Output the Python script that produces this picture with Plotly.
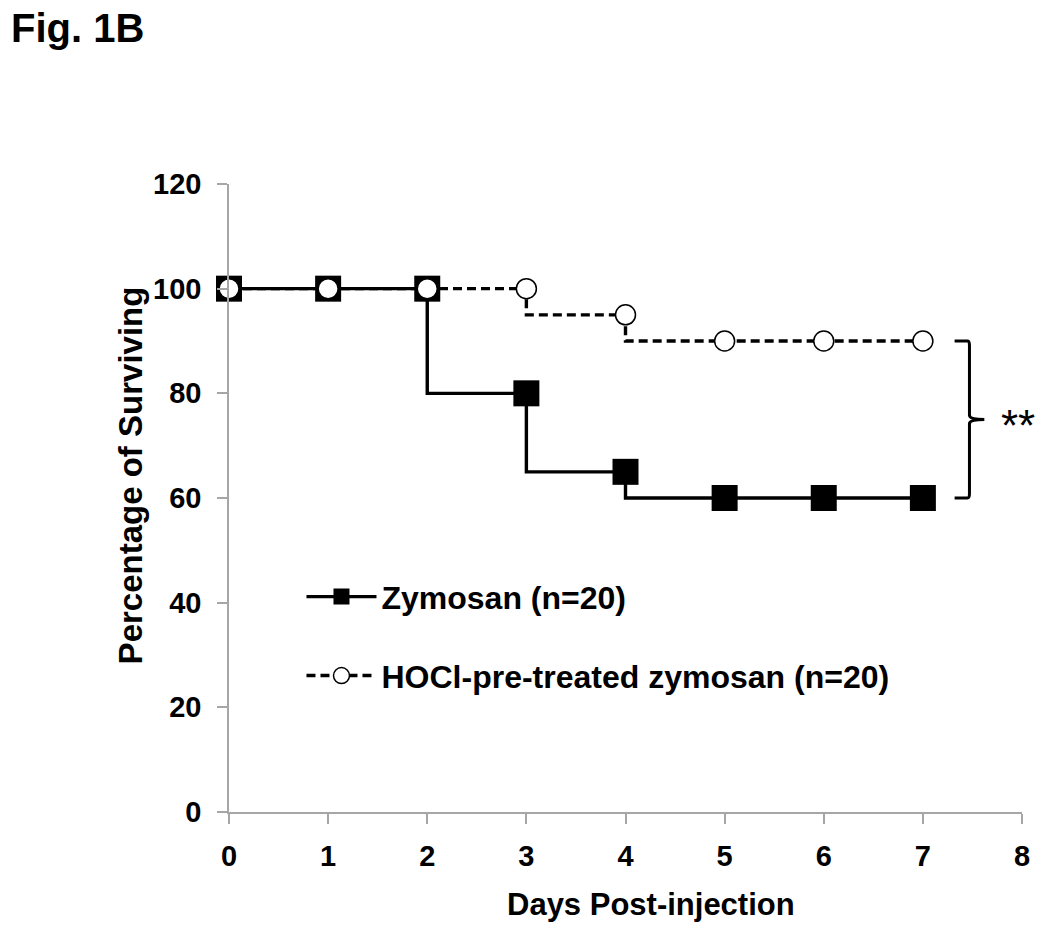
import plotly.graph_objects as go

# ---- data ----
days = [0, 1, 2, 3, 4, 5, 6, 7]
zymosan = [100, 100, 100, 80, 65, 60, 60, 60]
hocl = [100, 100, 100, 100, 95, 90, 90, 90]
name_zym = "Zymosan (n=20)"
name_hocl = "HOCl-pre-treated zymosan (n=20)"
x_ticks = [0, 1, 2, 3, 4, 5, 6, 7, 8]
y_ticks = [0, 20, 40, 60, 80, 100, 120]
x_title = "Days Post-injection"
y_title = "Percentage of Surviving"
fig_title = "Fig. 1B"
signif = "**"

FONT = "Liberation Sans, Arial, sans-serif"
W, H = 1050, 929
L, R, T, B = 228.5, 28.3, 184, 116.7
PW, PH = W - L - R, H - T - B


def px_x(px):
    return (px - L) / PW


def px_y(py):
    return ((H - B) - py) / PH


fig = go.Figure()
fig.add_trace(go.Scatter(
    x=days, y=zymosan, name=name_zym, mode="lines+markers",
    line=dict(color="black", width=3.4, shape="vh"),
    marker=dict(symbol="square", size=26, color="black"),
    legend="legend", cliponaxis=False,
))
fig.add_trace(go.Scatter(
    x=days, y=hocl, name=name_hocl, mode="lines+markers",
    line=dict(color="black", width=3.4, shape="vh", dash="9px,5px"),
    marker=dict(symbol="circle", size=20, color="white",
                line=dict(color="black", width=1.5)),
    legend="legend2", cliponaxis=False,
))

# significance bracket between final values
top = hocl[-1]
bot = zymosan[-1]
mid = (top + bot) / 2
x0, x1, x2 = 7.32, 7.47, 7.62
fig.add_shape(type="path", xref="x", yref="y",
              path=(f"M {x0},{top} L {x1-0.02},{top} Q {x1},{top} {x1},{top-0.8} "
                    f"L {x1},{mid+0.8} Q {x1},{mid} {x2},{mid} "
                    f"Q {x1},{mid} {x1},{mid-0.8} L {x1},{bot+0.8} "
                    f"Q {x1},{bot} {x1-0.02},{bot} L {x0},{bot}"),
              line=dict(color="black", width=3))
fig.add_annotation(x=7.96, y=mid, xref="x", yref="y", text=signif,
                   showarrow=False, font=dict(family=FONT, size=44, color="black"),
                   xanchor="center", yanchor="middle", yshift=-6)

# titles as annotations for exact placement
fig.add_annotation(x=px_x(8), y=px_y(28), xref="paper", yref="paper",
                   text=fig_title, showarrow=False, xanchor="left", yanchor="middle",
                   font=dict(family=FONT, size=40, color="black", weight="bold"))
fig.add_annotation(x=px_x(651), y=px_y(905),
                   xref="paper", yref="paper", text=x_title, showarrow=False,
                   xanchor="center", yanchor="middle",
                   font=dict(family=FONT, size=31, color="black", weight="bold"))
fig.add_annotation(x=px_x(130), y=px_y(476),
                   xref="paper", yref="paper", text=y_title, showarrow=False,
                   textangle=-90, xanchor="center", yanchor="middle",
                   font=dict(family=FONT, size=33, color="black", weight="bold"))

axis_common = dict(
    showgrid=False, zeroline=False, showline=True, linecolor="#a6a6a6", linewidth=1.5,
    ticks="outside", ticklen=10, tickwidth=1.5, tickcolor="#a6a6a6",
    tickfont=dict(family=FONT, size=29, color="black", weight="bold"),
)
fig.update_xaxes(range=[0, 8], tickvals=x_ticks, ticklabelstandoff=7, **axis_common)
fig.update_yaxes(range=[0, 120], tickvals=y_ticks, ticklabelstandoff=10, **axis_common)

leg_common = dict(font=dict(family=FONT, size=32, color="black", weight="bold"),
                  bgcolor="rgba(0,0,0,0)", itemwidth=70, xanchor="left", yanchor="middle")
fig.update_layout(
    width=W, height=H,
    margin=dict(l=L, r=R, t=T, b=B, autoexpand=False),
    paper_bgcolor="white", plot_bgcolor="white",
    showlegend=True,
    legend=dict(x=px_x(301), y=px_y(597), **leg_common),
    legend2=dict(x=px_x(301), y=px_y(676), **leg_common),
)

fig.write_html("out.html", config={"displayModeBar": False},
               post_script="document.body.style.margin='0';document.body.style.overflow='hidden';")
